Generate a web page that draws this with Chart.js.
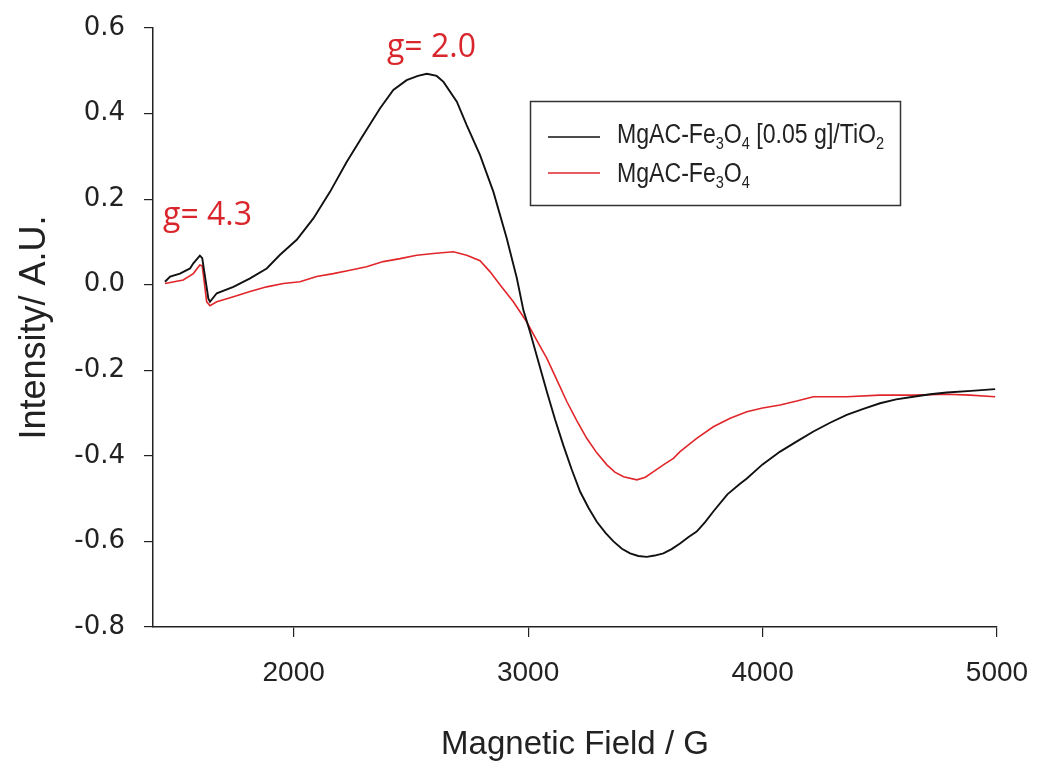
<!DOCTYPE html>
<html>
<head>
<meta charset="utf-8">
<script src="https://cdn.jsdelivr.net/npm/chart.js@4.4.1/dist/chart.umd.min.js"></script>
<style>
  html, body { margin: 0; padding: 0; background: #ffffff; }
  canvas { display: block; }
</style>
</head>
<body>
<canvas id="c" width="1040" height="774"></canvas>
<script>
// ---- Data ----
const fieldBlack = [1451,1473,1515,1558,1572,1600,1610,1636,1643,1672,1743,1814,1885,1942,2013,2084,2155,2226,2297,2368,2425,2482,2530,2568,2610,2639,2696,2738,2795,2852,2909,2952,2980,3008,3044,3080,3115,3150,3186,3222,3258,3293,3330,3364,3400,3435,3470,3506,3540,3577,3612,3648,3683,3719,3755,3790,3850,3904,3933,4000,4075,4150,4217,4290,4359,4430,4501,4570,4643,4715,4786,4890,4992];
const intensityBlack = [0.007,0.019,0.026,0.038,0.050,0.068,0.062,-0.032,-0.040,-0.020,-0.005,0.015,0.038,0.070,0.105,0.155,0.217,0.287,0.350,0.412,0.455,0.478,0.488,0.493,0.488,0.474,0.428,0.373,0.303,0.217,0.108,0.015,-0.060,-0.110,-0.180,-0.250,-0.315,-0.375,-0.432,-0.484,-0.522,-0.554,-0.580,-0.600,-0.617,-0.628,-0.634,-0.636,-0.633,-0.628,-0.618,-0.605,-0.590,-0.577,-0.555,-0.530,-0.490,-0.465,-0.453,-0.420,-0.390,-0.365,-0.343,-0.322,-0.304,-0.290,-0.277,-0.268,-0.262,-0.256,-0.252,-0.248,-0.244];

const fieldRed = [1451,1529,1572,1600,1610,1629,1643,1672,1743,1814,1885,1956,2027,2098,2169,2240,2311,2382,2454,2525,2596,2681,2738,2795,2838,2880,2937,2993,3037,3080,3122,3165,3208,3250,3293,3336,3370,3407,3464,3500,3535,3580,3620,3648,3719,3790,3862,3933,4000,4075,4146,4217,4359,4501,4643,4786,4885,4992];
const intensityRed = [0.003,0.011,0.026,0.046,0.044,-0.040,-0.049,-0.040,-0.028,-0.016,-0.005,0.003,0.007,0.019,0.026,0.034,0.042,0.054,0.061,0.069,0.073,0.077,0.069,0.056,0.030,0.000,-0.040,-0.086,-0.130,-0.172,-0.222,-0.273,-0.318,-0.359,-0.393,-0.421,-0.438,-0.449,-0.456,-0.450,-0.437,-0.420,-0.406,-0.390,-0.359,-0.332,-0.312,-0.297,-0.288,-0.281,-0.272,-0.262,-0.262,-0.258,-0.258,-0.256,-0.258,-0.262];

const xTickValues = [2000, 3000, 4000, 5000];
const yTickValues = [-0.8, -0.6, -0.4, -0.2, 0.0, 0.2, 0.4, 0.6];

// legend labels: [text, isSubscript]
const labelBlack = [["MgAC-Fe", false], ["3", true], ["O", false], ["4", true], [" [0.05 g]/TiO", false], ["2", true]];
const labelRed = [["MgAC-Fe", false], ["3", true], ["O", false], ["4", true]];

const annotationTexts = ["g= 4.3", "g= 2.0"];
const annotationPos = [[1443, 0.14], [2398, 0.532]];

const xTitle = "Magnetic Field / G";
const yTitle = "Intensity/ A.U.";

const BLACK = "#111111";
const RED = "#e0262a";

function toPoints(xs, ys) { return xs.map((x, i) => ({ x: x, y: ys[i] })); }

// ---- Custom legend & annotations ----
function drawRich(ctx, parts, x, y, size, sx) {
  ctx.save();
  ctx.translate(x, y);
  ctx.scale(sx, 1);
  let cx = 0;
  ctx.textBaseline = "alphabetic";
  ctx.textAlign = "left";
  for (const [t, sub] of parts) {
    if (sub) {
      ctx.font = Math.round(size * 0.62) + "px 'Liberation Sans', Arial, sans-serif";
      ctx.fillText(t, cx, size * 0.24);
    } else {
      ctx.font = size + "px 'Liberation Sans', Arial, sans-serif";
      ctx.fillText(t, cx, 0);
    }
    cx += ctx.measureText(t).width;
  }
  ctx.restore();
}

const overlayPlugin = {
  id: "overlay",
  afterDraw(chart) {
    const ctx = chart.ctx;
    const xs = chart.scales.x, ys = chart.scales.y;
    // annotations
    ctx.save();
    ctx.fillStyle = "#d9262c";
    ctx.font = "32px 'Open Sans', Lato, sans-serif";
    ctx.textBaseline = "alphabetic";
    ctx.textAlign = "left";
    annotationTexts.forEach((t, i) => {
      const [gx, gy] = annotationPos[i];
      ctx.fillText(t, xs.getPixelForValue(gx), ys.getPixelForValue(gy));
    });
    ctx.restore();

    // legend box
    ctx.save();
    ctx.strokeStyle = "#333333";
    ctx.lineWidth = 1.5;
    ctx.strokeRect(530.5, 101.5, 370, 104);
    ctx.lineWidth = 1.6;
    ctx.strokeStyle = BLACK;
    ctx.beginPath(); ctx.moveTo(548, 137); ctx.lineTo(600, 137); ctx.stroke();
    ctx.strokeStyle = RED;
    ctx.beginPath(); ctx.moveTo(548, 173); ctx.lineTo(600, 173); ctx.stroke();
    ctx.fillStyle = "#222222";
    drawRich(ctx, labelBlack, 617, 143, 27, 0.855);
    drawRich(ctx, labelRed, 617, 182, 27, 0.855);
    ctx.restore();
  }
};

new Chart(document.getElementById("c"), {
  type: "scatter",
  data: {
    datasets: [
      { label: "black", data: toPoints(fieldBlack, intensityBlack), showLine: true, borderColor: BLACK, borderWidth: 1.9, pointRadius: 0, tension: 0, fill: false },
      { label: "red", data: toPoints(fieldRed, intensityRed), showLine: true, borderColor: RED, borderWidth: 1.6, pointRadius: 0, tension: 0, fill: false }
    ]
  },
  options: {
    responsive: false,
    animation: false,
    events: [],
    layout: { padding: { top: 28, right: 43, left: 0, bottom: 0 } },
    plugins: { legend: { display: false }, tooltip: { enabled: false } },
    scales: {
      x: {
        type: "linear", position: "bottom", min: 1400, max: 5000,
        afterBuildTicks: (s) => { s.ticks = xTickValues.map(v => ({ value: v })); },
        afterFit: (s) => { s.height = 147; s.paddingRight = 0; s.paddingLeft = 0; },
        grid: { drawOnChartArea: false, drawTicks: true, tickLength: 10, color: "#222", lineWidth: 1.2 },
        border: { display: true, color: "#222", width: 1.5 },
        ticks: { font: { family: "'Liberation Sans', Arial, sans-serif", size: 28 }, color: "#222", padding: 19, maxRotation: 0, callback: (v) => String(v) },
        title: { display: true, text: xTitle, font: { family: "'Liberation Sans', Arial, sans-serif", size: 33 }, color: "#222", padding: { top: 0, bottom: 9 } }
      },
      y: {
        type: "linear", position: "left", min: -0.8, max: 0.6,
        afterBuildTicks: (s) => { s.ticks = yTickValues.map(v => ({ value: v })); },
        afterFit: (s) => { s.width = 153; },
        grid: { drawOnChartArea: false, drawTicks: true, tickLength: 9, color: "#222", lineWidth: 1.2 },
        border: { display: true, color: "#222", width: 1.5 },
        ticks: { font: { family: "'DejaVu Sans', sans-serif", size: 26, lineHeight: 0.6 }, color: "#222", padding: 19, callback: (v) => Number(v).toFixed(1) },
        title: { display: true, text: yTitle, font: { family: "'Liberation Sans', Arial, sans-serif", size: 36 }, color: "#222", padding: { top: 13, bottom: 0 } }
      }
    }
  },
  plugins: [overlayPlugin]
});
</script>
</body>
</html>
